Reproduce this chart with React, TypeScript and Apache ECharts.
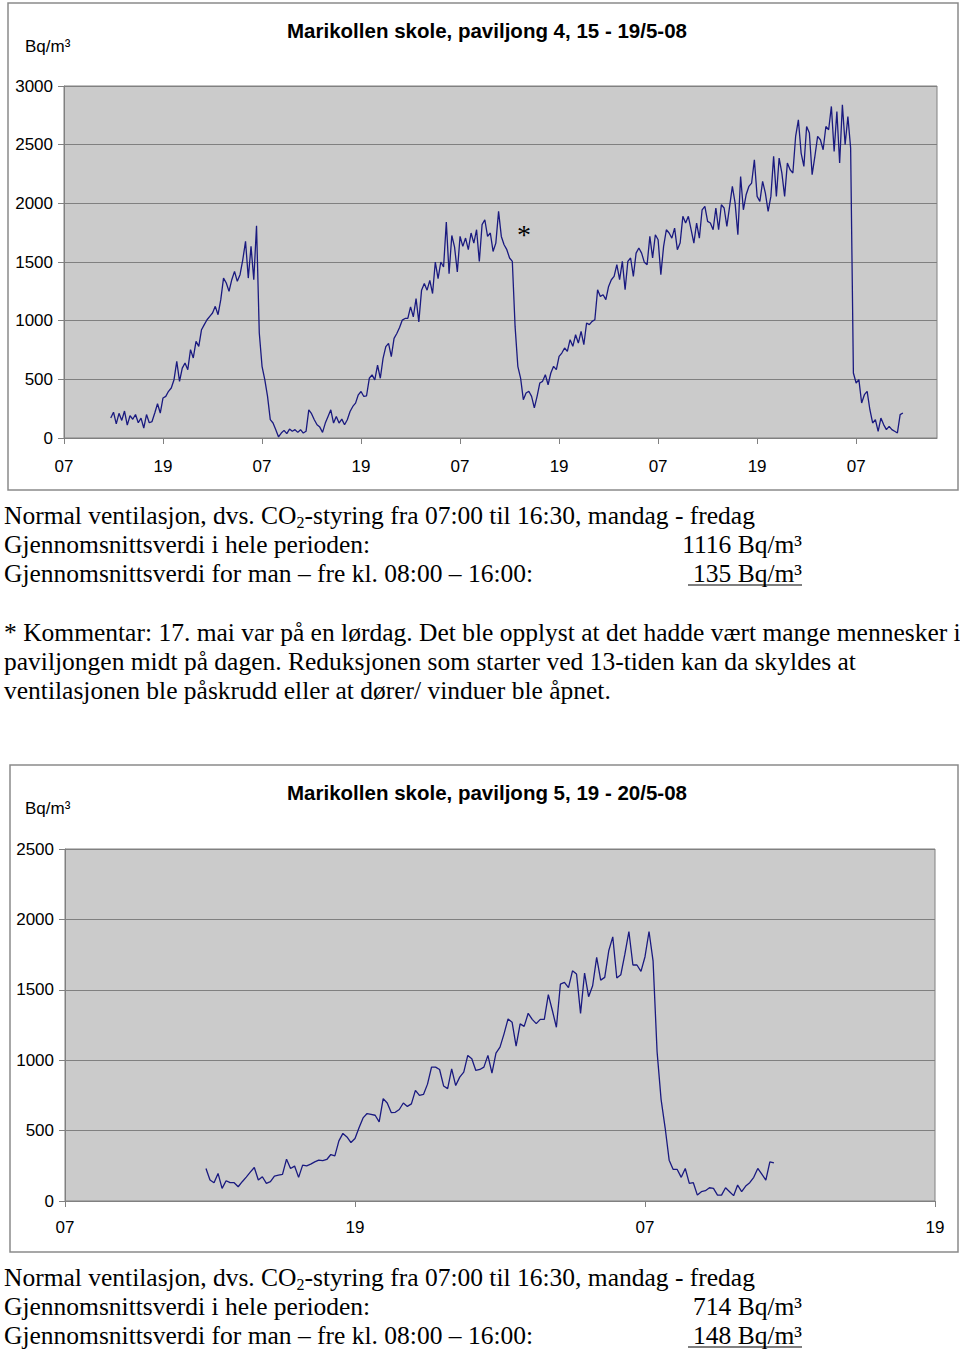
import React, { useEffect, useRef } from "react";
import * as echarts from "echarts";

// ---------- Data ----------
// Paviljong 4, 15 - 19/5-08: readings every 20 minutes, first reading 12:40 on day 1
const p4StartHour = 5 + 40 / 60; // hours after 07:00 day 1
const p4StepHours = 1 / 3;
const p4Values = [
  170, 220, 120, 210, 150, 230, 110, 190, 160, 200, 130, 170, 85, 200, 130, 140,
  213, 292, 213, 341, 355, 398, 426, 497, 653, 483, 596, 639, 582, 753, 682, 824,
  781, 923, 966, 1008, 1037, 1065, 1122, 1051, 1179, 1363, 1321, 1250, 1349, 1420, 1335, 1392,
  1519, 1676, 1363, 1633, 1349, 1809, 895, 611, 497, 355, 156, 128, 71, 9,
  42, 65, 37, 76, 57, 71, 48, 71, 42, 57, 240, 207, 156, 113, 93, 48,
  127, 184, 240, 127, 184, 127, 161, 113, 156, 226, 269, 297, 368, 396, 354, 360,
  509, 538, 495, 622, 509, 679, 778, 807, 693, 849, 891, 942, 1005, 1019, 1019, 1118,
  1033, 1189, 990, 1260, 1316, 1260, 1344, 1231, 1500, 1358, 1500, 1457, 1840, 1401, 1726, 1627,
  1415, 1718, 1633, 1704, 1605, 1747, 1661, 1775, 1505, 1818, 1860, 1718, 1747, 1590, 1661, 1931,
  1718, 1647, 1605, 1534, 1505, 951, 611, 511, 327, 383, 398, 355, 256, 355, 469, 483,
  540, 454, 554, 611, 582, 696, 724, 767, 738, 838, 781, 880, 809, 909, 795, 980,
  966, 994, 1008, 1264, 1207, 1221, 1179, 1292, 1349, 1377, 1477, 1349, 1505, 1264, 1505, 1534,
  1377, 1576, 1619, 1576, 1497, 1477, 1718, 1534, 1732, 1690, 1392, 1633, 1775, 1747, 1704, 1789,
  1605, 1661, 1889, 1832, 1889, 1775, 1661, 1832, 1704, 1945, 1974, 1846, 1832, 1775, 1960, 1775,
  1988, 1960, 1803, 1974, 2144, 2002, 1732, 2229, 1945, 2073, 2144, 2173, 2371, 2059, 2016, 2187,
  2087, 1931, 2059, 2400, 2059, 2386, 2258, 2059, 2343, 2286, 2258, 2570, 2712, 2428, 2315, 2655,
  2599, 2244, 2400, 2570, 2542, 2457, 2655, 2627, 2826, 2443, 2783, 2343, 2840, 2499, 2740, 2471,
  554, 469, 497, 298, 369, 398, 241, 128, 156, 57, 170, 114, 71, 99, 71, 57,
  43, 199, 213,
];

// Paviljong 5, 19 - 20/5-08: readings every 10 minutes, first reading 12:50 on day 1
const p5StartHour = 5 + 50 / 60;
const p5StepHours = 1 / 6;
const p5Values = [
  231, 149, 130, 196, 90, 144, 130, 130, 101, 137, 170, 205, 238, 149, 172, 125,
  137, 177, 183, 189, 297, 231, 248, 168, 255, 250, 262, 278, 290, 286, 295, 330,
  321, 427, 480, 455, 415, 444, 520, 590, 621, 615, 609, 562, 727, 696, 628, 630,
  650, 696, 672, 690, 786, 750, 757, 830, 951, 951, 934, 817, 798, 939, 820, 880,
  915, 1034, 1010, 927, 934, 951, 1034, 909, 1050, 1093, 1187, 1293, 1270, 1100, 1258, 1240,
  1333, 1290, 1260, 1290, 1290, 1466, 1353, 1234, 1541, 1553, 1516, 1635, 1612, 1333, 1619, 1451,
  1529, 1730, 1569, 1588, 1777, 1876, 1584, 1607, 1753, 1914, 1676, 1676, 1631, 1735, 1914, 1706,
  1060, 720, 520, 290, 224, 224, 168, 231, 125, 130, 42, 66, 73, 94, 90, 42,
  42, 94, 66, 38, 113, 66, 106, 130, 168, 231, 191, 149, 278, 271,
];

const hourLabels = ["07", "19"];
const p4TickHours = [0, 12, 24, 36, 48, 60, 72, 84, 96];
const p5TickHours = [0, 12, 24, 36];

const title4 = "Marikollen skole, paviljong 4, 15 - 19/5-08";
const title5 = "Marikollen skole, paviljong 5, 19 - 20/5-08";
const unitLabel = "Bq/m³";

const avgAll4 = "1116 Bq/m³";
const avgDay4 = " 135 Bq/m³";
const avgAll5 = "714 Bq/m³";
const avgDay5 = " 148 Bq/m³";

const ventLine = "{n|Normal ventilasjon, dvs. CO}{s|2}{n|-styring fra 07:00 til 16:30, mandag - fredag}";
const avgAllText = "Gjennomsnittsverdi i hele perioden:";
const avgDayText = "Gjennomsnittsverdi for man – fre kl. 08:00 – 16:00:";
const commentLines = [
  "* Kommentar: 17. mai var på en lørdag. Det ble opplyst at det hadde vært mange mennesker i",
  "paviljongen midt på dagen. Reduksjonen som starter ved 13-tiden kan da skyldes at",
  "ventilasjonen ble påskrudd eller at dører/ vinduer ble åpnet.",
];

// ---------- Styles ----------
const SANS = "'Liberation Sans', Arial, sans-serif";
const SERIF = "'Liberation Serif', 'Times New Roman', serif";
const LINE_COLOR = "#1a1a80";
const GRID_GRAY = "#808080";
const PLOT_BG = "#cbcbcb";
const BODY_SIZE = 25.5;

function toPoints(start: number, step: number, vals: number[]) {
  return vals.map((v, i) => [start + i * step, v]);
}

function hourFormatter(v: number) {
  return hourLabels[Math.round(v / 12) % 2];
}

function xAxisDef(gridIndex: number, max: number, ticks: number[], margin: number) {
  return {
    type: "value",
    gridIndex,
    min: 0,
    max,
    axisLine: { show: true, onZero: false, lineStyle: { color: GRID_GRAY, width: 1 } },
    axisTick: { show: true, length: 6, customValues: ticks, lineStyle: { color: GRID_GRAY } },
    axisLabel: {
      customValues: ticks,
      formatter: hourFormatter,
      fontSize: 17,
      fontFamily: SANS,
      color: "#000",
      margin,
    },
    splitLine: { show: false },
  };
}

function yAxisDef(gridIndex: number, max: number) {
  return {
    type: "value",
    gridIndex,
    min: 0,
    max,
    interval: 500,
    axisLine: { show: true, lineStyle: { color: GRID_GRAY, width: 1 } },
    axisTick: { show: true, length: 6, lineStyle: { color: GRID_GRAY } },
    axisLabel: {
      fontSize: 17,
      fontFamily: SANS,
      color: "#000",
      margin: 11,
      formatter: (v: number) => String(v),
    },
    splitLine: { show: true, lineStyle: { color: GRID_GRAY, width: 1 } },
  };
}

function text(t: string, x: number, y: number, font: string, align = "left", extra: any = {}) {
  return {
    type: "text",
    x,
    y,
    silent: true,
    style: {
      text: t,
      font,
      fill: "#000",
      align,
      textAlign: align,
      verticalAlign: "middle",
      textVerticalAlign: "middle",
      ...extra,
    },
  };
}

function richVent(y: number) {
  return {
    type: "text",
    x: 4,
    y,
    silent: true,
    style: {
      text: ventLine,
      fill: "#000",
      align: "left",
      textAlign: "left",
      verticalAlign: "middle",
      textVerticalAlign: "middle",
      rich: {
        n: { fontSize: BODY_SIZE, fontFamily: SERIF, lineHeight: 30, verticalAlign: "middle", color: "#000" },
        s: { fontSize: 16, fontFamily: SERIF, lineHeight: 30, verticalAlign: "bottom", color: "#000" },
      },
    },
  };
}

function underline(x1: number, x2: number, y: number) {
  return {
    type: "line",
    silent: true,
    shape: { x1, y1: y, x2, y2: y },
    style: { stroke: "#000", lineWidth: 1.2 },
  };
}

function box(x: number, y: number, w: number, h: number) {
  return {
    type: "rect",
    silent: true,
    z: -1,
    shape: { x, y, width: w, height: h },
    style: { fill: "none", stroke: "#8a8a8a", lineWidth: 1.5 },
  };
}

const bodyFont = `${BODY_SIZE}px ${SERIF}`;
const titleFont = `bold 20.5px ${SANS}`;
const unitFont = `17px ${SANS}`;

export default function App() {
  const ref = useRef<HTMLDivElement>(null);

  useEffect(() => {
    if (!ref.current) return;
    const chart = echarts.init(ref.current, null, { renderer: "svg" });

    const option: any = {
      animation: false,
      backgroundColor: "#ffffff",
      grid: [
        {
          left: 64, top: 86, width: 873, height: 352,
          show: true, backgroundColor: PLOT_BG, borderColor: GRID_GRAY, borderWidth: 1,
        },
        {
          left: 65, top: 849, width: 870, height: 352,
          show: true, backgroundColor: PLOT_BG, borderColor: GRID_GRAY, borderWidth: 1,
        },
      ],
      xAxis: [xAxisDef(0, 105.8, p4TickHours, 20), xAxisDef(1, 36, p5TickHours, 18)],
      yAxis: [yAxisDef(0, 3000), yAxisDef(1, 2500)],
      series: [
        {
          type: "line",
          name: "Paviljong 4",
          xAxisIndex: 0,
          yAxisIndex: 0,
          data: toPoints(p4StartHour, p4StepHours, p4Values),
          showSymbol: false,
          symbol: "none",
          lineStyle: { color: LINE_COLOR, width: 1.3 },
          silent: true,
        },
        {
          type: "line",
          name: "Paviljong 5",
          xAxisIndex: 1,
          yAxisIndex: 1,
          data: toPoints(p5StartHour, p5StepHours, p5Values),
          showSymbol: false,
          symbol: "none",
          lineStyle: { color: LINE_COLOR, width: 1.3 },
          silent: true,
        },
      ],
      graphic: [
        box(8, 3, 950, 487),
        box(10, 765, 948, 487),
        text(title4, 487, 30, titleFont, "center"),
        text(unitLabel, 25, 46, unitFont),
        text("*", 524, 234, `28px ${SERIF}`, "center"),
        richVent(515),
        text(avgAllText, 4, 544, bodyFont),
        text(avgAll4, 802, 544, bodyFont, "right"),
        text(avgDayText, 4, 573, bodyFont),
        text(avgDay4, 802, 573, bodyFont, "right"),
        underline(688, 802, 585),
        text(commentLines[0], 4, 632, bodyFont),
        text(commentLines[1], 4, 661, bodyFont),
        text(commentLines[2], 4, 690, bodyFont),
        text(title5, 487, 792, titleFont, "center"),
        text(unitLabel, 25, 808, unitFont),
        richVent(1277),
        text(avgAllText, 4, 1306, bodyFont),
        text(avgAll5, 802, 1306, bodyFont, "right"),
        text(avgDayText, 4, 1335, bodyFont),
        text(avgDay5, 802, 1335, bodyFont, "right"),
        underline(688, 802, 1347),
      ],
    };

    chart.setOption(option);
    return () => chart.dispose();
  }, []);

  return (
    <div
      ref={ref}
      style={{ position: "absolute", left: 0, top: 0, width: 960, height: 1352, background: "#fff" }}
    />
  );
}
